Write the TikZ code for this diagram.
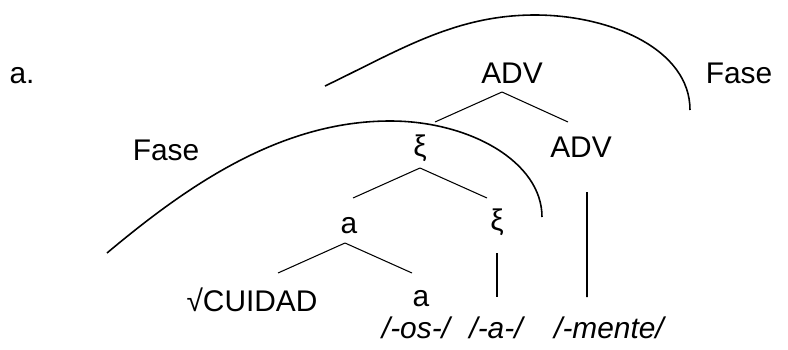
\documentclass[tikz,border=0pt]{standalone}
\usepackage{fontspec}
\setmainfont{Liberation Sans}
\usetikzlibrary{%
  calc,%
  positioning%
}

\begin{document}
\begin{tikzpicture}[
  font=\fontsize{17}{20}\selectfont,
  line width=0.6pt,
  every node/.style={inner sep=0pt},
]
\useasboundingbox (0,0) rectangle (15.76,6.98);

\node (tlab) at (0.44,5.46) {a.};
\node (tfase1) at (3.32,3.98) {Fase};
\node (tfase2) at (14.78,5.52) {Fase};

\node (adv1) at (10.24,5.52) {ADV};
\node (adv2) at (11.62,4.04) {ADV};
\node (xi1) at (8.40,4.02) {ξ};
\node (xi2) at (9.94,2.54) {ξ};
\node (a1) at (6.98,2.46) {a};
\node (root) at (5.04,0.98) {√CUIDAD};
\node (a2) at (8.42,1.00) {a};
\node (sos) at (8.32,0.42) {\itshape /-os-/};
\node (sa) at (9.92,0.42) {\itshape /-a-/};
\node (sm) at (12.18,0.42) {\itshape /-mente/};

% branches
\draw ($(adv1)+(-0.2,-0.38)$) -- ($(xi1)+(0.30,0.52)$);
\draw ($(adv1)+(-0.2,-0.38)$) -- ($(adv2)+(-0.26,0.50)$);
\draw ($(xi1)+(0,-0.40)$) -- ($(a1)+(0.08,0.56)$);
\draw ($(xi1)+(0,-0.40)$) -- ($(xi2)+(-0.20,0.48)$);
\draw ($(a1)+(-0.08,-0.34)$) -- ($(root)+(0.52,0.54)$);
\draw ($(a1)+(-0.08,-0.34)$) -- ($(a2)+(-0.18,0.52)$);
\draw[line width=1.1pt] ($(xi2)+(0,-0.62)$) -- ($(sa)+(0.02,0.62)$);
\draw[line width=1.1pt] ($(adv2)+(0.12,-0.90)$) -- ($(sm)+(-0.44,0.62)$);

% phases
\draw[line width=0.9pt] (2.14,1.92) .. controls (3.74,3.26) and (5.6,4.56) .. (7.8,4.56)
  .. controls (9.4,4.56) and (10.84,3.74) .. (10.84,2.64);
\draw[line width=0.9pt] (6.5,5.26) .. controls (8.0,5.98) and (9.1,6.68) .. (10.7,6.68)
  .. controls (12.2,6.68) and (13.8,6.0) .. (13.8,4.78);

\end{tikzpicture}
\end{document}
